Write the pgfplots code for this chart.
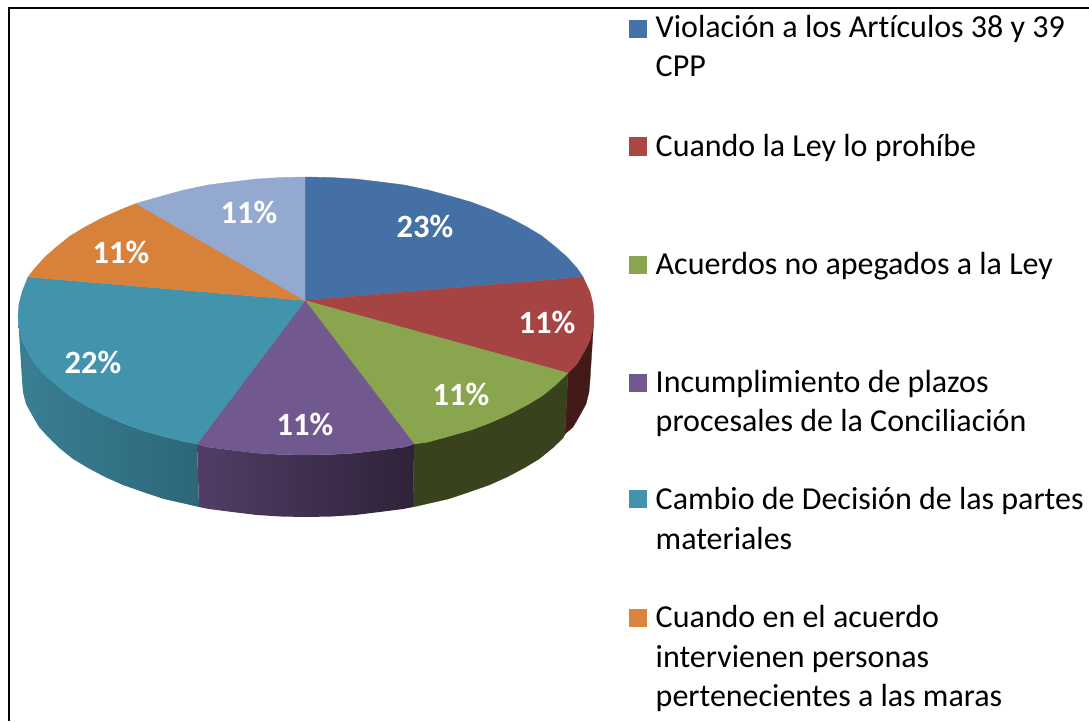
\documentclass[border=0pt]{standalone}
\usepackage{fontspec}
\setmainfont{Carlito}[Ligatures=NoCommon]
\usepackage{pgfplots}
\pgfplotsset{compat=1.18}

\definecolor{cblue}{HTML}{4470A5}
\definecolor{cred}{HTML}{A54442}
\definecolor{cgreen}{HTML}{89A54E}
\definecolor{cpurple}{HTML}{71588F}
\definecolor{cteal}{HTML}{4194AC}
\definecolor{corange}{HTML}{D8813B}
\definecolor{clight}{HTML}{93A9CF}
\definecolor{wallgreen}{HTML}{38431E}
\definecolor{wallred}{HTML}{441A18}
\definecolor{tealL}{HTML}{3A7F94}
\definecolor{tealR}{HTML}{2C6778}
\definecolor{purpleL}{HTML}{513D66}
\definecolor{purpleR}{HTML}{2F2239}
\definecolor{legblue}{HTML}{4572A7}
\definecolor{legred}{HTML}{AA4643}
\definecolor{legorange}{HTML}{DB843D}

\tikzset{
    legtext/.style={anchor=base west, inner sep=0pt, font=\fontsize{32}{34}\selectfont, text=black},
    pct/.style={anchor=center, inner sep=0pt, font=\fontsize{32.5}{34}\selectfont\bfseries, text=white},
}

\begin{document}
\begin{tikzpicture}
\begin{axis}[
    scale only axis,
    width=1089pt, height=721pt,
    xmin=0, xmax=1089,
    ymin=0, ymax=721,
    y dir=reverse,
    hide axis,
]
% keep the whole box in the picture, hide axis leaves it out
\path (axis cs:0,0) (axis cs:1089,721);

% frame, left and top only
\addplot[black, line width=2.4pt, line join=miter] coordinates {(9,721)(9,8)(1089,8)};

% side walls
\addplot[draw=wallred, line width=0.3pt, fill=wallred] coordinates {
    (594,316)(593,328)(590,340)(584,352)(577,364)(568,373)
    (565,434)(573,427)(580,415)(586,404)(589,392)(590,380)} --cycle;
\addplot[draw=wallgreen, line width=0.3pt, fill=wallgreen] coordinates {
    (568,373)(555,385.5)(542,396)(527,405)(510,414)(491,422.5)(471,430)(450,436)(428,442)(414,444)
    (413,507)(426,504)(448,499)(469,492)(489,485)(507,477)(524,468)(539,459)(552,448.5)(563,438)(565,434)} --cycle;
\addplot[draw=none, left color=purpleL, right color=purpleR] coordinates {
    (414,444)(404.5,447)(381,450)(356,453)(331,454.5)(306,455)(281,454.5)(256,453)(231,450)(207.5,447)(197,444)
    (199,507)(209,509)(232.5,512)(257,515)(281,516.5)(306,517)(331,516.5)(355,515)(379.5,512)(403,509)(413,507)} --cycle;
\addplot[draw=none, left color=tealL, right color=tealR] coordinates {
    (197,444)(184,441.5)(162,436)(141,430)(121,422.5)(102,414)(85,405)(70,396)(57,385.5)(45,375)(35,364)(28,352)(22,340)(19,328)(18,316)
    (22,380)(23,392)(26,404)(32,415)(39,427)(49,438)(60,448.5)(73,459)(88,468)(105,477)(123,485)(143,492)(164,499)(186,504)(199,507)} --cycle;

% top faces
\addplot[draw=cblue, line width=0.3pt, fill=cblue] coordinates {
    (305,300.5)(305,177)(331,177.5)(356,179)(381,182)(404.5,185)(428,190)(450,196)(471,202)(491,209.5)(510,218)(527,227)(542,236)(555,246.5)(567,257)(577,268)(583,277)} --cycle;
\addplot[draw=cred, line width=0.3pt, fill=cred] coordinates {
    (305,300.5)(583,277)(590,292)(593,304)(594,316)(593,328)(590,340)(584,352)(577,364)(568,373)} --cycle;
\addplot[draw=cgreen, line width=0.3pt, fill=cgreen] coordinates {
    (305,300.5)(568,373)(555,385.5)(542,396)(527,405)(510,414)(491,422.5)(471,430)(450,436)(428,442)(414,444)} --cycle;
\addplot[draw=cpurple, line width=0.3pt, fill=cpurple] coordinates {
    (305,300.5)(414,444)(404.5,447)(381,450)(356,453)(331,454.5)(306,455)(281,454.5)(256,453)(231,450)(207.5,447)(197,444)} --cycle;
\addplot[draw=cteal, line width=0.3pt, fill=cteal] coordinates {
    (305,300.5)(197,444)(184,441.5)(162,436)(141,430)(121,422.5)(102,414)(85,405)(70,396)(57,385.5)(45,375)(35,364)(28,352)(22,340)(19,328)(18,316)(19,304)(22,292)(28,277)} --cycle;
\addplot[draw=corange, line width=0.3pt, fill=corange] coordinates {
    (305,300.5)(28,277)(35,268)(45,257)(57,246.5)(70,236)(85,227)(102,218)(121,209.5)(136,203.5)} --cycle;
\addplot[draw=clight, line width=0.3pt, fill=clight] coordinates {
    (305,300.5)(136,203.5)(141,202)(162,196)(184,190)(207.5,185)(231,182)(256,179)(281,177.5)(305,177)} --cycle;

% legend keys
\addplot[draw=none, fill=legblue] coordinates {(629,20)(647,20)(647,38)(629,38)} --cycle;
\addplot[draw=none, fill=legred] coordinates {(629,137)(647,137)(647,156)(629,156)} --cycle;
\addplot[draw=none, fill=cgreen] coordinates {(629,256)(647,256)(647,274)(629,274)} --cycle;
\addplot[draw=none, fill=cpurple] coordinates {(629,374)(647,374)(647,392)(629,392)} --cycle;
\addplot[draw=none, fill=cteal] coordinates {(629,490)(647,490)(647,508)(629,508)} --cycle;
\addplot[draw=none, fill=legorange] coordinates {(629,609)(647,609)(647,627)(629,627)} --cycle;

% percentages
\node[pct] at (axis cs:425,226) {23\%};
\node[pct] at (axis cs:547,322) {11\%};
\node[pct] at (axis cs:461,394) {11\%};
\node[pct] at (axis cs:305,424) {11\%};
\node[pct] at (axis cs:93,362) {22\%};
\node[pct] at (axis cs:121,252) {11\%};
\node[pct] at (axis cs:249,212) {11\%};

% legend text
\node[legtext] at (axis cs:655.5,37.5) {Violación a los Artículos 38 y 39};
\node[legtext] at (axis cs:655.5,76.5) {CPP};
\node[legtext] at (axis cs:655.5,156) {Cuando la Ley lo prohíbe};
\node[legtext] at (axis cs:655.5,274) {Acuerdos no apegados a la Ley};
\node[legtext] at (axis cs:655.5,392) {Incumplimiento de plazos};
\node[legtext] at (axis cs:655.5,431) {procesales de la Conciliación};
\node[legtext] at (axis cs:655.5,509) {Cambio de Decisión de las partes};
\node[legtext] at (axis cs:655.5,549) {materiales};
\node[legtext] at (axis cs:655.5,627) {Cuando en el acuerdo};
\node[legtext] at (axis cs:655.5,667) {intervienen personas};
\node[legtext] at (axis cs:655.5,706) {pertenecientes a las maras};
\end{axis}
\end{tikzpicture}
\end{document}
